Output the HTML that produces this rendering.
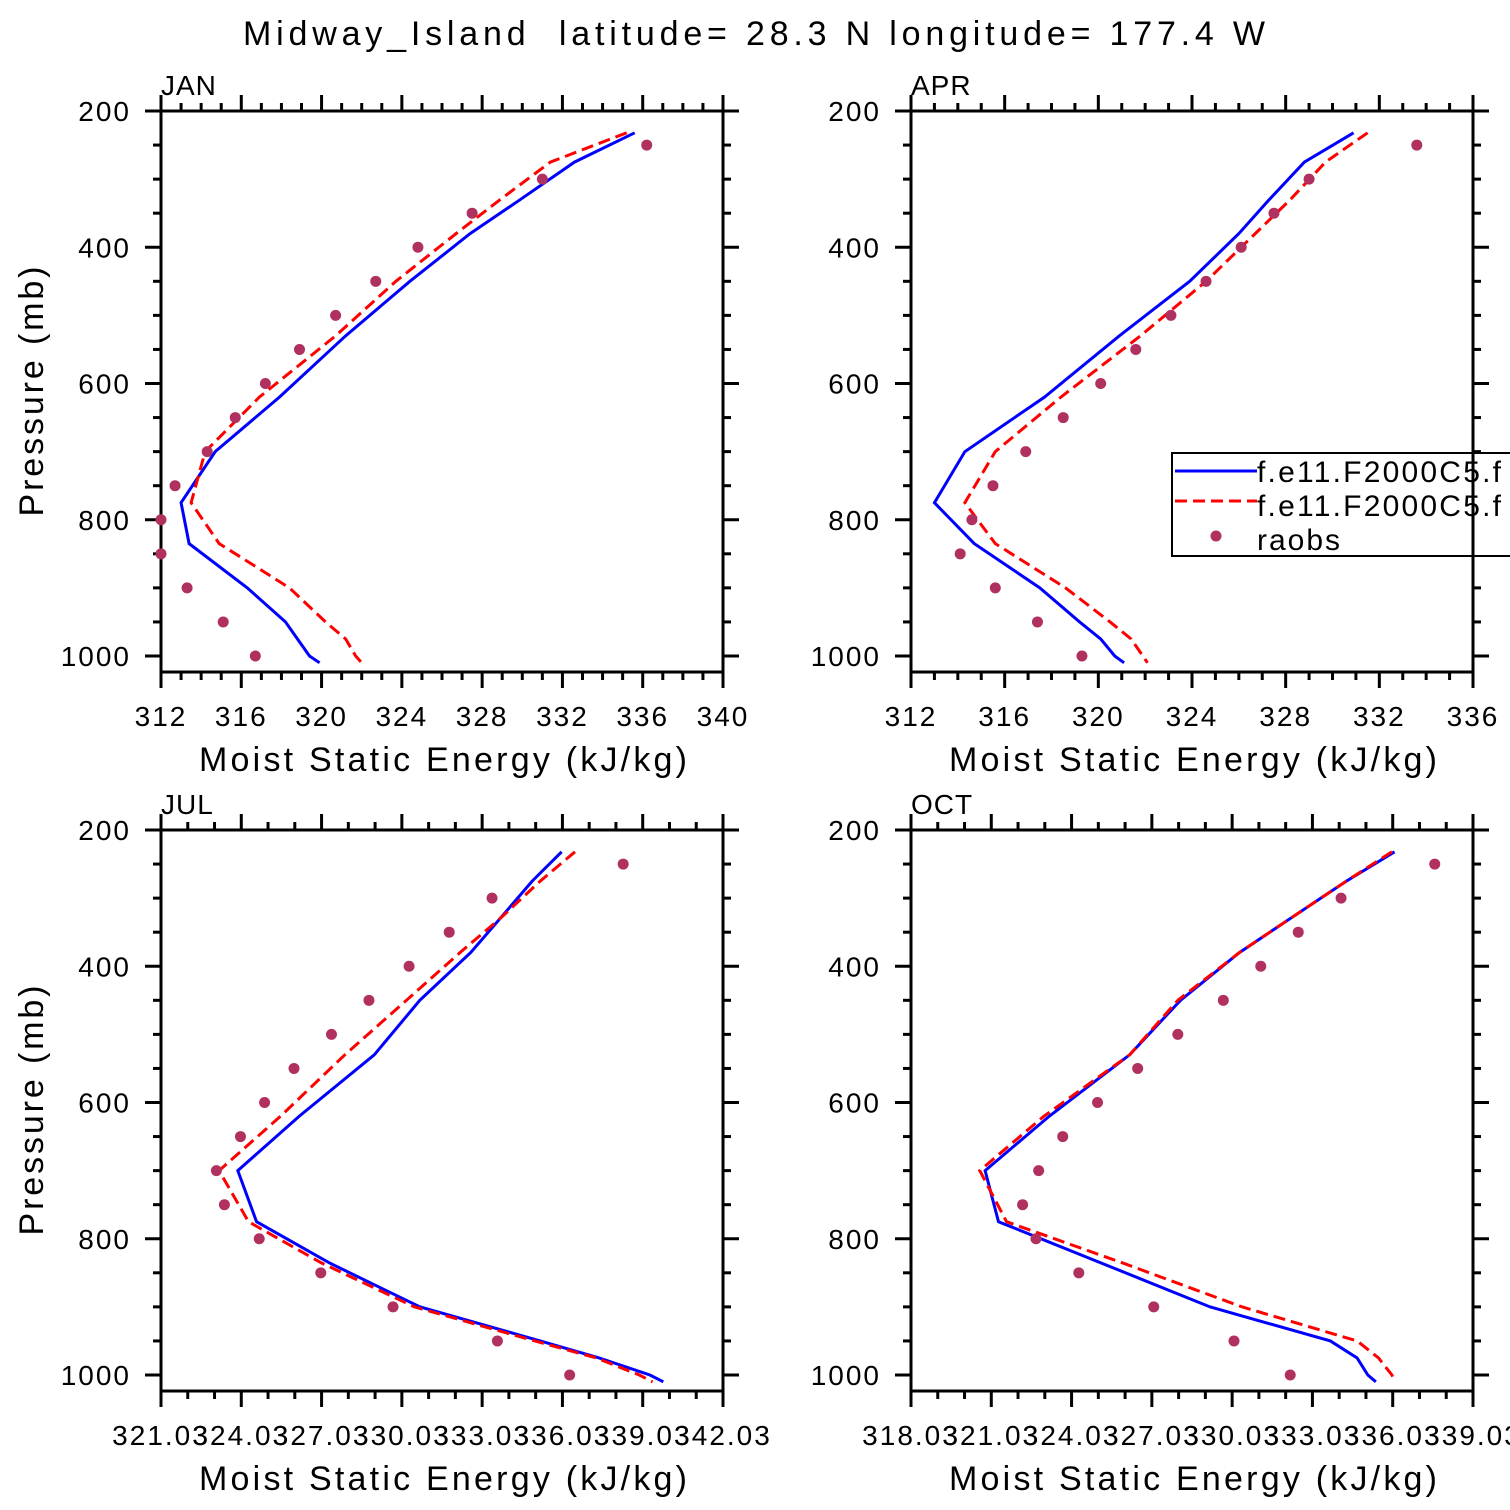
<!DOCTYPE html>
<html><head><meta charset="utf-8">
<style>
html,body{margin:0;padding:0;background:#fff;}
svg{display:block;font-family:"Liberation Sans","DejaVu Sans",sans-serif;}
</style></head>
<body>
<svg id="chart" width="1510" height="1510" viewBox="0 0 1510 1510" xmlns="http://www.w3.org/2000/svg">
<rect width="1510" height="1510" fill="#fff"/>
<text x="243" y="45" font-size="34" textLength="1022" lengthAdjust="spacing">Midway_Island&#160;&#160;latitude= 28.3 N longitude= 177.4 W</text>
</svg>
<script>
const modelLevels=[232,275,330,380,450,530,620,700,775,835,900,950,975,1000,1010];
const obsLevels=[250,300,350,400,450,500,550,600,650,700,750,800,850,900,950,1000];
const yTicks=[200,400,600,800,1000];

const janBlue=[335.6,332.6,329.9,327.4,324.4,321.2,317.9,314.7,313.0,313.4,316.3,318.2,318.8,319.4,319.9];
const janRed=[335.2,331.4,328.9,326.7,323.7,320.7,316.9,314.2,313.5,314.9,318.4,320.2,321.2,321.7,322.0];
const janObs=[336.2,331.0,327.5,324.8,322.7,320.7,318.9,317.2,315.7,314.3,312.7,312.0,312.0,313.3,315.1,316.7];
const janTicks=["312","316","320","324","328","332","336","340"];

const aprBlue=[330.9,328.8,327.3,326.0,323.9,320.9,317.7,314.3,313.0,314.7,317.5,319.2,320.1,320.7,321.1];
const aprRed=[331.5,329.7,328.2,326.7,324.6,321.8,318.4,315.6,314.3,315.6,318.6,320.5,321.4,321.9,322.1];
const aprObs=[333.6,329.0,327.5,326.1,324.6,323.1,321.6,320.1,318.5,316.9,315.5,314.6,314.1,315.6,317.4,319.3];
const aprTicks=["312","316","320","324","328","332","336"];

const julBlue=[336.0,334.9,333.7,332.6,330.7,329.0,326.2,323.9,324.6,327.3,330.7,335.2,337.4,339.3,339.8];
const julRed=[336.5,335.2,333.7,332.2,330.2,327.9,325.5,323.2,324.3,327.0,330.5,335.0,337.3,338.9,339.4];
const julObs=[338.3,333.4,331.8,330.3,328.8,327.4,326.0,324.9,324.0,323.1,323.4,324.7,327.0,329.7,333.6,336.3];
const julTicks=["321.03","324.03","327.03","330.03","333.03","336.03","339.03","342.03"];

const octBlue=[336.1,334.3,332.2,330.3,328.1,326.2,323.2,320.8,321.3,325.1,329.2,333.7,334.7,335.1,335.4];
const octRed=[336.0,334.3,332.2,330.3,328.0,326.2,323.0,320.6,321.6,325.9,330.4,334.7,335.5,336.0,336.1];
const octObs=[337.6,334.1,332.5,331.1,329.7,328.0,326.5,325.0,323.7,322.8,322.2,322.7,324.3,327.1,330.1,332.2];
const octTicks=["318.03","321.03","324.03","327.03","330.03","333.03","336.03","339.03"];

const NS="http://www.w3.org/2000/svg";
const svg=document.getElementById('chart');
function mk(tag,attrs,parent){const e=document.createElementNS(NS,tag);for(const k in attrs)e.setAttribute(k,attrs[k]);(parent||svg).appendChild(e);return e;}

const panels=[
 {name:'jan',label:'JAN',x0:161,y0:111,xmin:312,xmax:340,major:4,minor:1,ticks:janTicks,blue:janBlue,red:janRed,obs:janObs,ylab:true},
 {name:'apr',label:'APR',x0:911,y0:111,xmin:312,xmax:336,major:4,minor:1,ticks:aprTicks,blue:aprBlue,red:aprRed,obs:aprObs,ylab:false,legend:true},
 {name:'jul',label:'JUL',x0:161,y0:830,xmin:321.03,xmax:342.03,major:3,minor:1,ticks:julTicks,blue:julBlue,red:julRed,obs:julObs,ylab:true},
 {name:'oct',label:'OCT',x0:911,y0:830,xmin:318.03,xmax:339.03,major:3,minor:1,ticks:octTicks,blue:octBlue,red:octRed,obs:octObs,ylab:false}
];
const W=562, PSCALE=0.68125, PMAX=1023.5;

panels.forEach(P=>{
 const g=mk('g',{});
 
 
 const xs=v=>P.x0+(v-P.xmin)/(P.xmax-P.xmin)*W;
 const ys=p=>P.y0+(p-200)*PSCALE;
 const yb=ys(PMAX);
 const cid='clip-'+P.name;
 const cp=mk('clipPath',{id:cid},g);mk('rect',{x:P.x0,y:P.y0,width:W,height:yb-P.y0},cp);
 for(let p=200;p<=PMAX;p+=50){
  const len=(p%200===0)?16:8;const y=ys(p);
  mk('line',{x1:P.x0-len,y1:y,x2:P.x0,y2:y,stroke:'#000','stroke-width':3},g);
  mk('line',{x1:P.x0+W,y1:y,x2:P.x0+W+len,y2:y,stroke:'#000','stroke-width':3},g);
 }
 yTicks.forEach(p=>{
  const t=mk('text',{x:P.x0-30,y:ys(p)+10,'font-size':28,'text-anchor':'end','letter-spacing':2},g);t.textContent=p;
  
  
 });
 const n=Math.round((P.xmax-P.xmin)/P.minor);
 for(let i=0;i<=n;i++){
  const v=P.xmin+i*P.minor;const x=xs(v);
  const len=(i%Math.round(P.major/P.minor)===0)?16:8;
  mk('line',{x1:x,y1:P.y0-len,x2:x,y2:P.y0,stroke:'#000','stroke-width':3},g);
  mk('line',{x1:x,y1:yb,x2:x,y2:yb+len,stroke:'#000','stroke-width':3},g);
 }
 P.ticks.forEach((lab,i)=>{
  const t=mk('text',{x:xs(P.xmin+i*P.major),y:yb+54,'font-size':28,'text-anchor':'middle','letter-spacing':2},g);t.textContent=lab;
  
  
 });
 mk('rect',{x:P.x0,y:P.y0,width:W,height:yb-P.y0,fill:'none',stroke:'#000','stroke-width':3},g);
 const lt=mk('text',{x:P.x0,y:P.y0-16,'font-size':28,'letter-spacing':1},g);lt.textContent=P.label;
 
 
 const xt=mk('text',{x:P.x0+38,y:yb+99,'font-size':34,textLength:488,lengthAdjust:'spacing'},g);xt.textContent='Moist Static Energy (kJ/kg)';
 
 
 if(P.ylab){
  const cy=(P.y0+yb)/2;
  const yt=mk('text',{x:-125,y:0,'font-size':34,textLength:250,lengthAdjust:'spacing',transform:`translate(43,${cy}) rotate(-90)`},g);yt.textContent='Pressure (mb)';
  
  
 }
 const dg=mk('g',{'clip-path':`url(#${cid})`},g);
 const pb=mk('polyline',{points:P.blue.map((v,i)=>xs(v)+','+ys(modelLevels[i])).join(' '),fill:'none',stroke:'#0000ff','stroke-width':3},dg);
 
 
 const pr=mk('polyline',{points:P.red.map((v,i)=>xs(v)+','+ys(modelLevels[i])).join(' '),fill:'none',stroke:'#ff0000','stroke-width':3,'stroke-dasharray':'12 6'},dg);
 
 
 P.obs.forEach((v,i)=>{
  const c=mk('circle',{cx:xs(v),cy:ys(obsLevels[i]),r:5.5,fill:'#b03060'},g);
  
  
 });
 if(P.legend){
  const lg=mk('g',{},svg);
  
  
  mk('rect',{x:1172,y:453,width:345,height:103,fill:'#fff',stroke:'#000','stroke-width':2},lg);
  mk('line',{x1:1175,y1:471,x2:1257,y2:471,stroke:'#0000ff','stroke-width':3},lg);
  mk('line',{x1:1175,y1:501,x2:1257,y2:501,stroke:'#ff0000','stroke-width':3,'stroke-dasharray':'12 6'},lg);
  mk('circle',{cx:1216,cy:536,r:5.5,fill:'#b03060'},lg);
  const labs=['f.e11.F2000C5.f','f.e11.F2000C5.f','raobs'];
  const lens=[244,244,83];
  labs.forEach((s,i)=>{
   const t=mk('text',{x:1257,y:482+i*34,'font-size':30,textLength:lens[i],lengthAdjust:'spacing'},lg);t.textContent=s;
   
   
  });
  mk('line',{x1:1473,y1:440,x2:1473,y2:570,stroke:'#000','stroke-width':3},lg);
 }
});
</script>
</body></html>
